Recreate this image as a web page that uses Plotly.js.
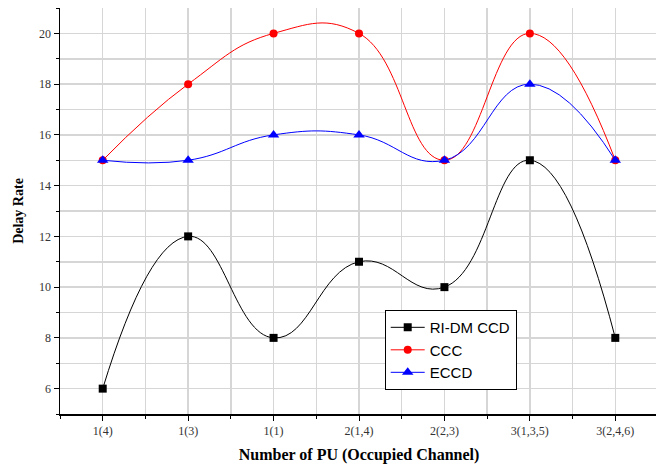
<!DOCTYPE html>
<html><head><meta charset="utf-8">
<script src="https://cdn.plot.ly/plotly-3.0.1.min.js"></script>
<style>html,body{margin:0;padding:0;overflow:hidden;background:#fff;}</style>
</head><body>
<div id="chart" style="width:660px;height:468px;"></div>
<script>
const categories = ["1(4)", "1(3)", "1(1)", "2(1,4)", "2(2,3)", "3(1,3,5)", "3(2,4,6)"];
const riDmCcd = [6, 12, 8, 11, 10, 15, 8];
const ccc = [15, 18, 20, 20, 15, 20, 15];
const eccd = [15, 15, 16, 16, 15, 18, 15];
const xIdx = categories.map((c, i) => i);

const traces = [
  {x: xIdx, y: riDmCcd, name: "RI-DM CCD", mode: "lines+markers",
   line: {color: "#000000", width: 1, shape: "spline", smoothing: 1.3},
   marker: {symbol: "square", size: 8, color: "#000000"}},
  {x: xIdx, y: ccc, name: "CCC", mode: "lines+markers",
   line: {color: "#ff0000", width: 1, shape: "spline", smoothing: 1.3},
   marker: {symbol: "circle", size: 8, color: "#ff0000"}},
  {x: xIdx, y: eccd, name: "ECCD", mode: "lines+markers",
   line: {color: "#0000ff", width: 1, shape: "spline", smoothing: 1.3},
   marker: {symbol: "triangle-up", size: 10, color: "#0000ff"}}
];

const layout = {
  width: 660, height: 468,
  margin: {l: 60, r: 2, t: 8, b: 54},
  paper_bgcolor: "#ffffff", plot_bgcolor: "#ffffff",
  showlegend: true,
  legend: {x: 0.543, y: 0.256, xanchor: "left", yanchor: "top",
    bgcolor: "#ffffff", bordercolor: "#000000", borderwidth: 1,
    font: {family: "Liberation Sans, Arial", size: 15, color: "#000"},
    itemwidth: 34, tracegroupgap: 0},
  xaxis: {range: [-0.5, 6.5], tickvals: xIdx, ticktext: categories,
    showline: true, linecolor: "#000", linewidth: 1.5, mirror: false,
    ticks: "outside", ticklen: 5, tickcolor: "#000", tickwidth: 1,
    showgrid: true, gridcolor: "#d6d6d6", gridwidth: 1.5, zeroline: false,
    minor: {dtick: 0.5, tick0: 0, ticks: "outside", ticklen: 3, tickcolor: "#000", showgrid: true, gridcolor: "#d6d6d6", gridwidth: 1.5},
    tickfont: {family: "Liberation Serif, Times New Roman", size: 12, color: "#333"},
    title: {text: "Number of PU (Occupied Channel)", standoff: 12,
      font: {family: "Liberation Serif, Times New Roman", size: 16, color: "#000", weight: "bold"}}},
  yaxis: {range: [5, 21], dtick: 2, tick0: 0,
    showline: true, linecolor: "#000", linewidth: 1.5, mirror: false,
    ticks: "outside", ticklen: 5, tickcolor: "#000", tickwidth: 1,
    showgrid: true, gridcolor: "#d6d6d6", gridwidth: 1.5, zeroline: false,
    minor: {dtick: 1, tick0: 0, ticks: "outside", ticklen: 3, tickcolor: "#000", showgrid: true, gridcolor: "#d6d6d6", gridwidth: 1.5},
    tickfont: {family: "Liberation Serif, Times New Roman", size: 12, color: "#333"},
    title: {text: "Delay Rate", standoff: 12,
      font: {family: "Liberation Serif, Times New Roman", size: 14, color: "#000", weight: "bold"}}}
};

Plotly.newPlot("chart", traces, layout, {displayModeBar: false, staticPlot: true});
</script>
</body></html>
